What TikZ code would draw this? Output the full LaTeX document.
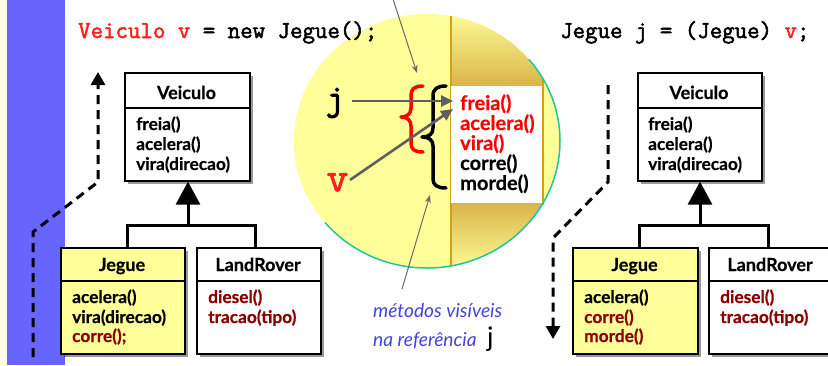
\documentclass[tikz,border=0pt]{standalone}
\usepackage{fontspec}
\setmainfont{Lato}[BoldFeatures={FakeBold=0.5}]
\newfontfamily\codefont[FakeBold=2.2]{Latin Modern Mono}
\newfontfamily\jfont[FakeBold=2.6]{Latin Modern Mono}
\usetikzlibrary{arrows.meta,shadows}
\definecolor{stripblue}{HTML}{6666FF}
\definecolor{cream}{HTML}{FFFFE6}
\definecolor{lyellow}{HTML}{FFFF99}
\definecolor{gold}{HTML}{D9B44A}
\definecolor{goldline}{HTML}{D4A017}
\definecolor{tealedge}{HTML}{1CC7A0}
\definecolor{dred}{HTML}{8B0000}
\definecolor{arrgrey}{HTML}{5F5F5F}
\definecolor{thingrey}{HTML}{6A6A6A}
\definecolor{lblue}{HTML}{4343D9}
\definecolor{codered}{HTML}{FF2020}
\begin{document}
\begin{tikzpicture}[x=1pt,y=-1pt,
  umlbox/.style={draw=black, line width=1.6pt, anchor=north west, inner sep=0pt,
    drop shadow={shadow xshift=3pt, shadow yshift=-3pt, fill=black, opacity=0.4}},
  sepline/.style={draw=black, line width=1.6pt},
  headtxt/.style={anchor=base, inner sep=0pt, font=\fontsize{18}{20}\selectfont\bfseries},
  meth/.style={anchor=base west, inner sep=0pt, font=\fontsize{17.3}{19}\selectfont\bfseries},
  wmeth/.style={anchor=base west, inner sep=0pt, font=\fontsize{20}{20}\selectfont\bfseries},
  codetxt/.style={anchor=base west, inner sep=0pt, font=\fontsize{24.2}{26}\selectfont\codefont},
  inhline/.style={draw=black, line width=3pt},
  inharrow/.style={draw=black, line width=3pt, -{Triangle[length=23pt,width=24pt]}},
  dasharrow/.style={draw=black, line width=3pt, dash pattern=on 9pt off 6pt, -{Triangle[length=13pt,width=14pt]}},
  garrow/.style={draw=arrgrey, line width=2.6pt, -{Triangle[length=12pt,width=11pt]}},
  tarrow/.style={draw=thingrey, line width=1pt, -{Stealth[length=8pt,width=6pt]}},
  bracepath/.style={line width=3.5pt, line cap=round, line join=round},
  lbltxt/.style={anchor=base west, inner sep=0pt, text=lblue, font=\fontsize{19.2}{20}\selectfont\itshape}
]
\useasboundingbox (0,0) rectangle (828,365);
\clip (0,0) rectangle (828,365);
% side strips
\fill[cream] (0,0) rectangle (7,365);
\fill[stripblue] (7,0) rectangle (65,365);

% ---------- magnifier circle ----------
\fill[lyellow] (427,141) ellipse [x radius=133, y radius=127];
\begin{scope}
  \clip (427,141) ellipse [x radius=133, y radius=127];
  \shade[top color=lyellow, bottom color=gold] (451,10) rectangle (543,86);
  \shade[top color=gold, bottom color=lyellow] (451,203) rectangle (543,272);
  \draw[goldline, line width=1.3pt] (451,10) -- (451,272);
\end{scope}
\fill[white] (451,86) rectangle (543,203);
\draw[goldline, line width=1.3pt] (543,78) -- (543,205);
\draw[tealedge, line width=1.5pt] (427,141) ++(140:133 and 127)
  arc[start angle=140, end angle=-40, x radius=133, y radius=127];

% methods in the white box
\node[wmeth, text=red] (wfreia) at (460,110) {freia()};
\node[wmeth, text=red] (wacel) at (460,130) {acelera()};
\node[wmeth, text=red] (wvira) at (460,150) {vira()};
\node[wmeth] (wcorre) at (460,170) {corre()};
\node[wmeth] (wmorde) at (460,190) {morde()};

% braces
\draw[bracepath, red] (423,86) .. controls (414,86) and (411,89) .. (411,96) -- (411,108)
  .. controls (411,114) and (407,117) .. (401,117)
  .. controls (407,117) and (411,120) .. (411,126) -- (411,143)
  .. controls (411,149) and (414,152) .. (423,152);
\draw[bracepath, black] (446,86) .. controls (437,86) and (433,89) .. (433,96) -- (433,128)
  .. controls (433,134) and (429,137) .. (422,137)
  .. controls (429,137) and (433,140) .. (433,146) -- (433,179)
  .. controls (433,185) and (437,188) .. (446,188);

% j and v references
\node[inner sep=0pt, font=\fontsize{36}{38}\selectfont\jfont] (jlbl) at (335,103) {j};
\node[inner sep=0pt, text=codered, font=\fontsize{42}{44}\selectfont\codefont] (vlbl) at (337.5,182.5) {v};
\coordinate (jstart) at (352,101);
\coordinate (jtip) at (453,101);
\coordinate (vstart) at (350,180);
\coordinate (vtip) at (453,109);
\draw[garrow] (jstart) -- (jtip);
\draw[garrow] (vstart) -- (vtip);

% thin pointer arrows
\coordinate (topfrom) at (392,-4);
\coordinate (toptip) at (417,73);
\draw[tarrow] (topfrom) -- (toptip);
\coordinate (botfrom) at (402,289);
\coordinate (bottip) at (430,195);
\draw[tarrow] (botfrom) -- (bottip);

% caption
\node[lbltxt] (cap1) at (373,317) {métodos visíveis};
\node[lbltxt] (cap2) at (373,346) {na referência};
\node[anchor=base west, inner sep=0pt, font=\fontsize{27}{28}\selectfont] (capj) at (487,346) {j};

% ---------- code lines ----------
\node[codetxt] (code1) at (78,38) {\textcolor{codered}{Veiculo v} = new Jegue();};
\node[codetxt] (code2) at (560,38) {Jegue j = (Jegue) \textcolor{codered}{v};};

% ---------- left UML ----------
\node[umlbox, fill=white, minimum width=125pt, minimum height=108pt] (lveh) at (124,72) {};
\draw[sepline] (124,108) -- (249,108);
\node[headtxt] (lvehT) at (186.5,99) {Veiculo};
\node[meth] (lv1) at (136,130) {freia()};
\node[meth] (lv2) at (136,150) {acelera()};
\node[meth] (lv3) at (136,170) {vira(direcao)};

\node[umlbox, fill=lyellow, minimum width=124pt, minimum height=106pt] (ljeg) at (60,247) {};
\draw[sepline] (60,281) -- (184,281);
\node[headtxt] (ljegT) at (122,271) {Jegue};
\node[meth] (lj1) at (72,303) {acelera()};
\node[meth] (lj2) at (72,323) {vira(direcao)};
\node[meth, text=dred] (lj3) at (72,342) {corre();};

\node[umlbox, fill=white, minimum width=124pt, minimum height=106pt] (llr) at (196,247) {};
\draw[sepline] (196,281) -- (320,281);
\node[headtxt] (llrT) at (258,271) {LandRover};
\node[meth, text=dred] (ll1) at (208,303) {diesel()};
\node[meth, text=dred] (ll2) at (208,323) {tracao(tipo)};

\coordinate (lmid) at (188,225);
\coordinate (ljtop) at (127,247);
\coordinate (lltop) at (255,247);
\draw[inhline] (ljtop) |- (lmid) -| (lltop);
\draw[inharrow] (lmid) -- (lveh.south -| lmid);

\coordinate (ld1) at (33,357);
\coordinate (ld2) at (33,232);
\coordinate (ld3) at (98,182);
\coordinate (ld4) at (98,72);
\draw[dasharrow] (ld1) -- (ld2) -- (ld3) -- (ld4);

% ---------- right UML ----------
\node[umlbox, fill=white, minimum width=124pt, minimum height=108pt] (rveh) at (637,72) {};
\draw[sepline] (637,108) -- (761,108);
\node[headtxt] (rvehT) at (699,99) {Veiculo};
\node[meth] (rv1) at (648,130) {freia()};
\node[meth] (rv2) at (648,150) {acelera()};
\node[meth] (rv3) at (648,170) {vira(direcao)};

\node[umlbox, fill=lyellow, minimum width=125pt, minimum height=106pt] (rjeg) at (572,247) {};
\draw[sepline] (572,281) -- (697,281);
\node[headtxt] (rjegT) at (634.5,271) {Jegue};
\node[meth] (rj1) at (584,303) {acelera()};
\node[meth, text=dred] (rj2) at (584,323) {corre()};
\node[meth, text=dred] (rj3) at (584,342) {morde()};

\node[umlbox, fill=white, minimum width=125pt, minimum height=106pt] (rlr) at (708,247) {};
\draw[sepline] (708,281) -- (840,281);
\node[headtxt] (rlrT) at (770,271) {LandRover};
\node[meth, text=dred] (rl1) at (720,303) {diesel()};
\node[meth, text=dred] (rl2) at (720,323) {tracao(tipo)};

\coordinate (rmid) at (700,225);
\coordinate (rjtop) at (639,247);
\coordinate (rltop) at (768,247);
\draw[inhline] (rjtop) |- (rmid) -| (rltop);
\draw[inharrow] (rmid) -- (rveh.south -| rmid);

\coordinate (rd1) at (608,85);
\coordinate (rd2) at (608,182);
\coordinate (rd3) at (553,238);
\coordinate (rd4) at (553,339);
\draw[dasharrow] (rd1) -- (rd2) -- (rd3) -- (rd4);
\end{tikzpicture}
\end{document}
